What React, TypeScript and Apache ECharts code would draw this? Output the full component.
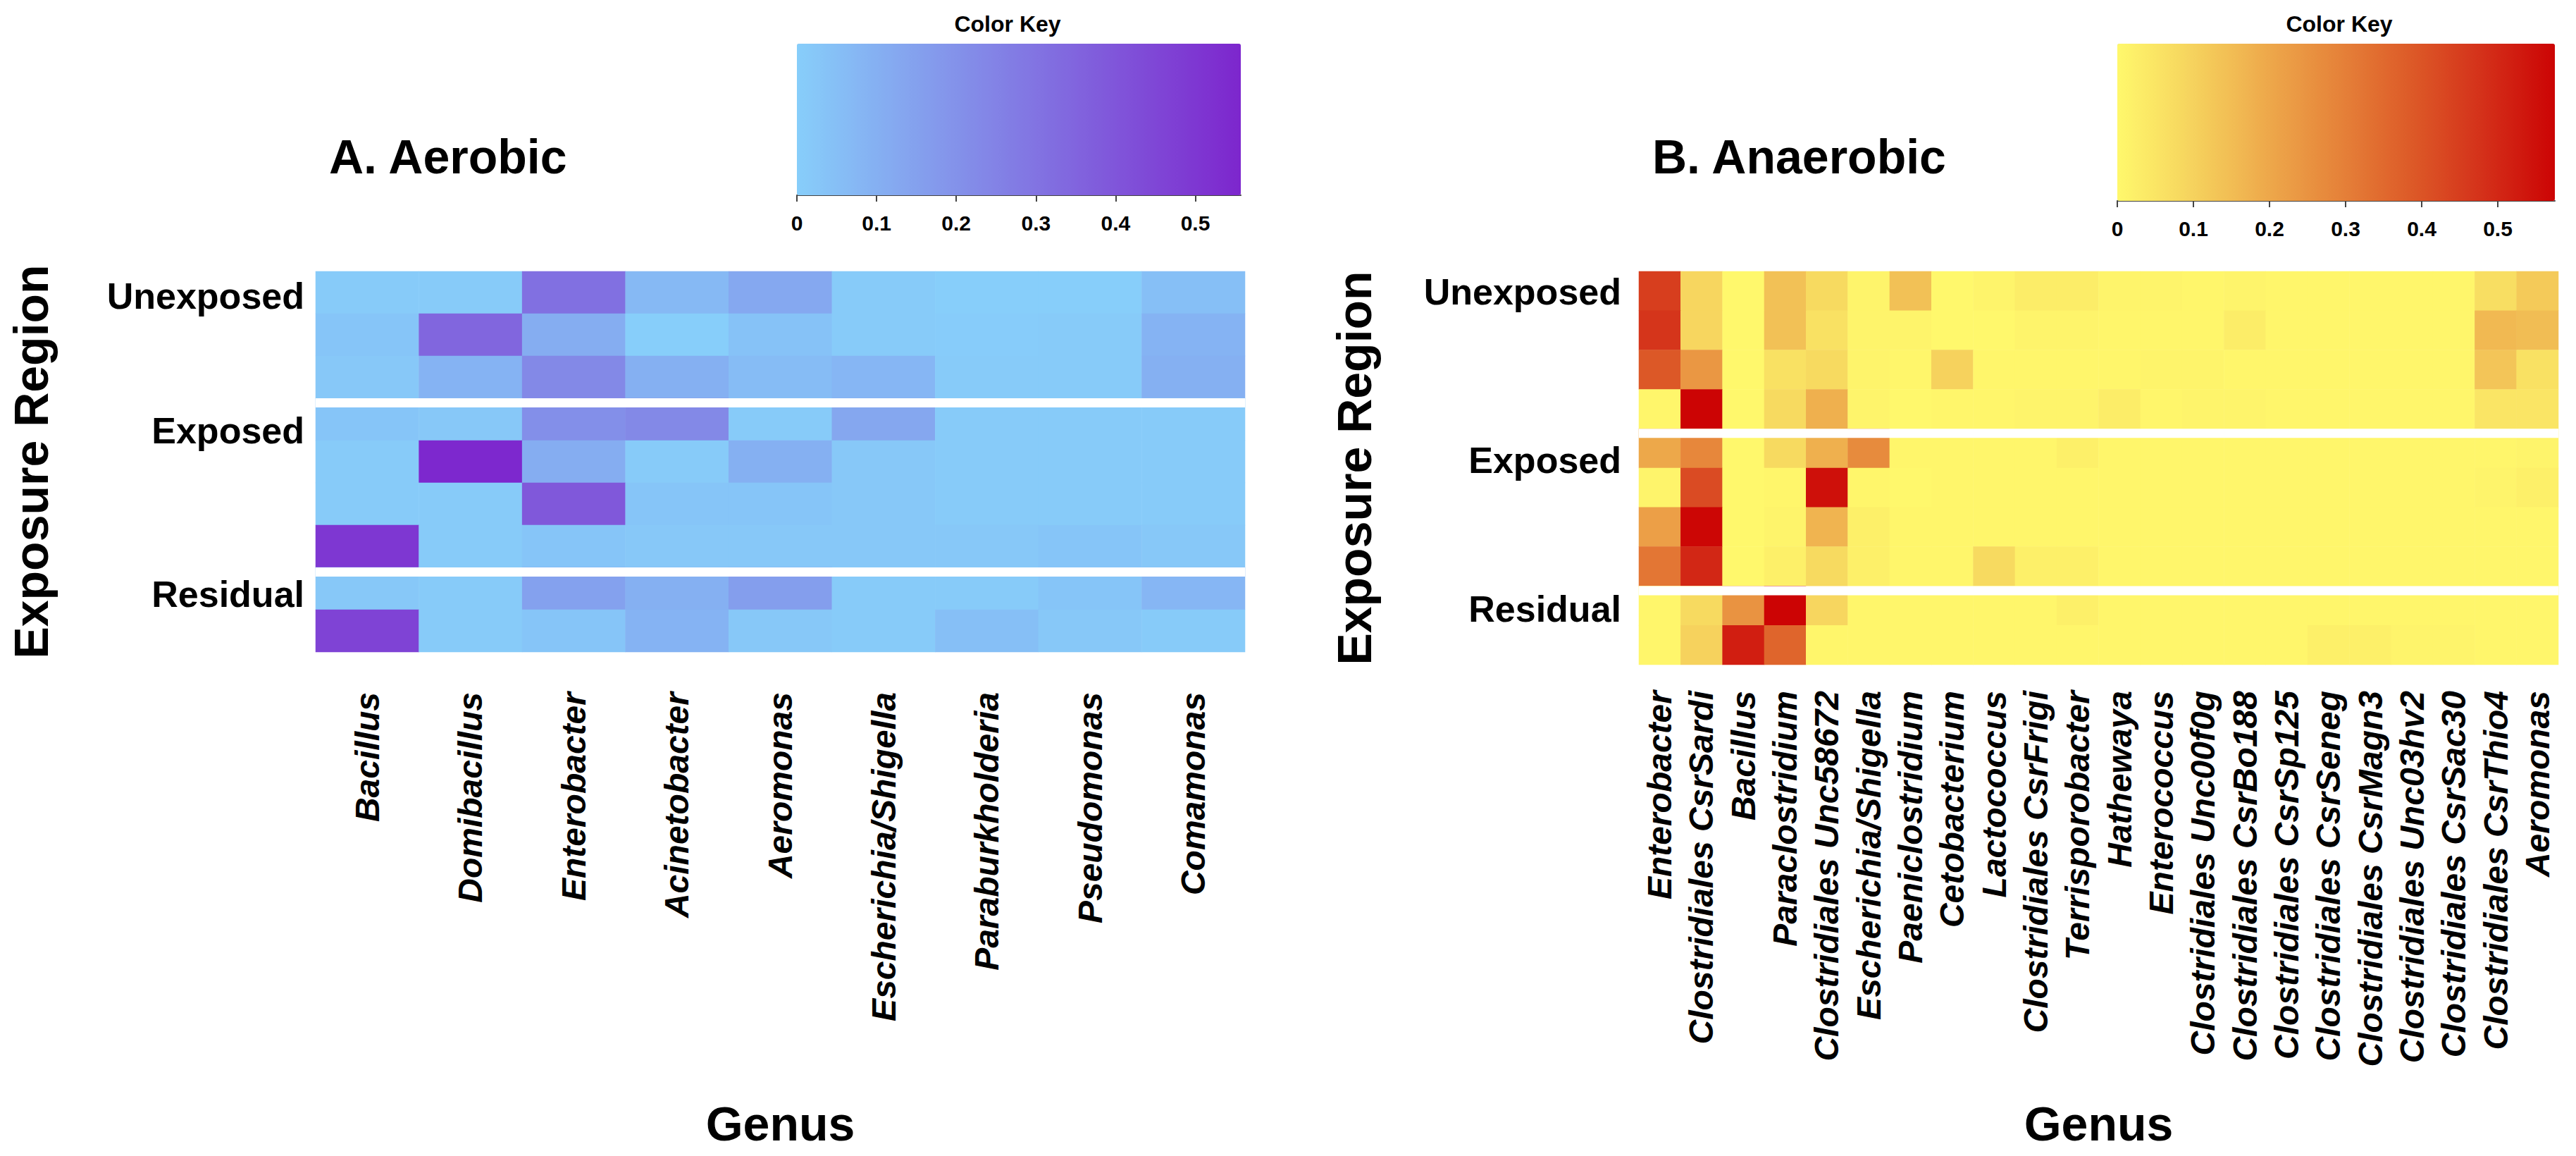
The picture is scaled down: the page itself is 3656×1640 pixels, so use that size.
import React, { useEffect, useRef } from 'react';
import * as echarts from 'echarts';

const FONT = 'Liberation Sans, Arial, Helvetica, sans-serif';

// ---------- Panel A: Aerobic ----------
const aerobicGenera = [
  'Bacillus', 'Domibacillus', 'Enterobacter', 'Acinetobacter', 'Aeromonas',
  'Escherichia/Shigella', 'Paraburkholderia', 'Pseudomonas', 'Comamonas',
];
const aerobicRows = [
  'Unexposed', 'Unexposed', 'Unexposed',
  'Exposed', 'Exposed', 'Exposed', 'Exposed',
  'Residual', 'Residual',
];
// rows = samples (top to bottom), columns = genera
const aerobicValues = [
  [0.01, 0.01, 0.31, 0.07, 0.125, 0.01, 0.0, 0.0, 0.05],
  [0.03, 0.345, 0.11, 0.0, 0.04, 0.01, 0.005, 0.01, 0.09],
  [0.02, 0.09, 0.23, 0.10, 0.06, 0.08, 0.01, 0.01, 0.10],
  [0.03, 0.02, 0.21, 0.23, 0.01, 0.13, 0.01, 0.01, 0.01],
  [0.01, 0.55, 0.11, 0.01, 0.10, 0.02, 0.01, 0.01, 0.01],
  [0.01, 0.01, 0.39, 0.03, 0.03, 0.02, 0.01, 0.01, 0.01],
  [0.50, 0.01, 0.03, 0.02, 0.02, 0.02, 0.02, 0.03, 0.02],
  [0.02, 0.01, 0.15, 0.10, 0.16, 0.01, 0.01, 0.03, 0.08],
  [0.46, 0.01, 0.03, 0.09, 0.02, 0.01, 0.05, 0.02, 0.01],
];
const aerobicKeyMax = 0.557;
const aerobicRamp = ['#87CEFA', '#7D26CD'];

// ---------- Panel B: Anaerobic ----------
const anaerobicGenera = [
  'Enterobacter', 'Clostridiales CsrSardi', 'Bacillus', 'Paraclostridium',
  'Clostridiales Unc58672', 'Escherichia/Shigella', 'Paeniclostridium',
  'Cetobacterium', 'Lactococcus', 'Clostridiales CsrFrigi', 'Terrisporobacter',
  'Hathewaya', 'Enterococcus', 'Clostridiales Unc00f0g', 'Clostridiales CsrBo188',
  'Clostridiales CsrSp125', 'Clostridiales CsrSeneg', 'Clostridiales CsrMagn3',
  'Clostridiales Unc03hv2', 'Clostridiales CsrSac30', 'Clostridiales CsrThio4',
  'Aeromonas',
];
const anaerobicRows = [
  'Unexposed', 'Unexposed', 'Unexposed', 'Unexposed',
  'Exposed', 'Exposed', 'Exposed', 'Exposed',
  'Residual', 'Residual',
];
const anaerobicValues = [
  [0.45, 0.09, 0, 0.14, 0.08, 0.01, 0.14, 0, 0.01, 0.03, 0.03, 0.01, 0.01, 0.005, 0.01, 0.005, 0.005, 0.005, 0.005, 0.005, 0.07, 0.12],
  [0.47, 0.09, 0, 0.14, 0.06, 0.01, 0.01, 0, 0, 0.01, 0.01, 0.005, 0.005, 0.005, 0.03, 0.005, 0.005, 0.005, 0.005, 0.005, 0.16, 0.15],
  [0.39, 0.24, 0, 0.06, 0.08, 0.01, 0.005, 0.10, 0.005, 0.005, 0.005, 0.005, 0.01, 0.01, 0.005, 0.005, 0.005, 0.005, 0.005, 0.005, 0.13, 0.06],
  [0.005, 0.575, 0, 0.08, 0.18, 0.01, 0, 0.005, 0.005, 0.01, 0.01, 0.03, 0.005, 0.01, 0.01, 0.005, 0.005, 0.005, 0.005, 0.005, 0.05, 0.05],
  [0.20, 0.28, 0, 0.08, 0.18, 0.27, 0.005, 0.005, 0.005, 0.005, 0.02, 0.005, 0.005, 0.005, 0.005, 0.005, 0.005, 0.005, 0.005, 0.005, 0.005, 0.01],
  [0.01, 0.42, 0, 0.005, 0.55, 0.005, 0, 0.005, 0.005, 0.005, 0.005, 0.005, 0.005, 0.005, 0.005, 0.005, 0.005, 0.005, 0.005, 0.005, 0.01, 0.02],
  [0.22, 0.57, 0, 0.01, 0.17, 0.02, 0.005, 0.005, 0.005, 0.005, 0.005, 0.005, 0.005, 0.005, 0.005, 0.005, 0.005, 0.005, 0.005, 0.005, 0.005, 0.005],
  [0.32, 0.50, 0, 0.02, 0.08, 0.02, 0.005, 0.005, 0.08, 0.02, 0.02, 0.005, 0.005, 0.005, 0.005, 0.005, 0.005, 0.005, 0.005, 0.005, 0.005, 0.005],
  [0.005, 0.08, 0.25, 0.575, 0.09, 0.005, 0.005, 0.005, 0.005, 0.005, 0.02, 0.005, 0.005, 0.005, 0.005, 0.005, 0.005, 0.005, 0.005, 0.005, 0.005, 0.005],
  [0.005, 0.10, 0.52, 0.36, 0.005, 0.005, 0.005, 0.005, 0.005, 0.005, 0.005, 0.005, 0.005, 0.005, 0.005, 0.005, 0.02, 0.02, 0.01, 0.01, 0.005, 0.005],
];
const anaerobicKeyMax = 0.575;
const anaerobicRamp = ['#FFF86C', '#F6D45E', '#EEAB4C', '#E6843A', '#DD5B28', '#D4311A', '#CC0404'];

const keyTicks = [0, 0.1, 0.2, 0.3, 0.4, 0.5];

// ---------- helpers ----------
function toCells(values: number[][]) {
  const out: number[][] = [];
  values.forEach((row, r) => row.forEach((v, c) => out.push([c, r, v])));
  return out;
}
function groupStarts(rows: string[]) {
  const s: number[] = [];
  rows.forEach((g, i) => { if (i > 0 && g !== rows[i - 1]) s.push(i); });
  return s;
}

const ROW_LABEL_STYLE = { fontSize: 52, fontWeight: 'bold', color: '#000', fontFamily: FONT };
// downward nudge of each group label (style only), per panel
function rowLabelAxis(rows: string[], nudge: Record<string, number>) {
  const rich: Record<string, any> = {};
  Object.keys(nudge).forEach((k) => {
    rich[k] = { ...ROW_LABEL_STYLE, padding: [nudge[k] * 2, 0, 0, 0] };
  });
  const formatter = (_v: string, i: number) =>
    i === 0 || rows[i] !== rows[i - 1] ? `{${rows[i]}|${rows[i]}}` : '';
  return { rich, formatter };
}

const SEP_H = 13;
function sepRender(params: any, api: any) {
  const r = api.value(1);
  const c = api.coord([0, r]);
  const sz = api.size([1, 1]);
  const cs = params.coordSys;
  return {
    type: 'rect',
    shape: { x: cs.x, y: c[1] - sz[1] / 2, width: cs.width, height: SEP_H },
    style: { fill: '#ffffff' },
  };
}

function heatXAxis(gridIndex: number, data: string[], margin: number, nameGap: number, shiftPad: number) {
  return {
    gridIndex, type: 'category', data, position: 'bottom',
    axisLine: { show: false }, axisTick: { show: false }, splitLine: { show: false },
    axisLabel: {
      interval: 0, rotate: 90, margin, fontSize: 48, fontWeight: 'bold',
      fontStyle: 'italic', color: '#000', fontFamily: FONT,
      padding: [0, 0, shiftPad, 0],
    },
    name: 'Genus', nameLocation: 'middle', nameGap,
    nameTextStyle: { fontSize: 68, fontWeight: 'bold', color: '#000', fontFamily: FONT },
  };
}
function heatYAxis(gridIndex: number, rows: string[], margin: number, nameGap: number, nudge: Record<string, number>) {
  const lab = rowLabelAxis(rows, nudge);
  return {
    gridIndex, type: 'category', inverse: true,
    data: rows.map((g, i) => `${g}-${i}`),
    axisLine: { show: false }, axisTick: { show: false }, splitLine: { show: false },
    axisLabel: {
      interval: 0, margin, ...ROW_LABEL_STYLE,
      formatter: lab.formatter, rich: lab.rich,
    },
    name: 'Exposure Region', nameLocation: 'middle', nameGap, nameRotate: 90,
    nameTextStyle: { fontSize: 68, fontWeight: 'bold', color: '#000', fontFamily: FONT },
  };
}
function keyXAxis(gridIndex: number, max: number) {
  return {
    gridIndex, type: 'value', min: 0, max, position: 'bottom',
    axisLine: { show: true, onZero: false, lineStyle: { color: '#444', width: 2 } },
    axisTick: { show: true, length: 9, customValues: keyTicks, lineStyle: { color: '#444', width: 2 } },
    splitLine: { show: false },
    axisLabel: {
      customValues: keyTicks, margin: 24, fontSize: 30, fontWeight: 'bold',
      color: '#000', fontFamily: FONT, formatter: (v: number) => String(v),
    },
  };
}

export default function App() {
  const ref = useRef<HTMLDivElement>(null);
  useEffect(() => {
    const chart = echarts.init(ref.current!, null, { renderer: 'svg' });
    const titleStyle = { fontSize: 68, fontWeight: 'bold', fontFamily: FONT, fill: '#000', textVerticalAlign: 'middle' };
    const keyTitleStyle = { fontSize: 32, fontWeight: 'bold', fontFamily: FONT, fill: '#000', textAlign: 'center', textVerticalAlign: 'middle' };
    const option: any = {
      animation: false,
      backgroundColor: '#ffffff',
      textStyle: { fontFamily: FONT },
      grid: [
        { left: 448, top: 385, width: 1319, height: 540 },
        { left: 2326, top: 385, width: 1305, height: 558 },
        { left: 1131, top: 62, width: 630, height: 215 },
        { left: 3005, top: 62, width: 621, height: 223 },
      ],
      xAxis: [
        heatXAxis(0, aerobicGenera, 57, 635, 44),
        heatXAxis(1, anaerobicGenera, 37, 617, 14),
        keyXAxis(2, aerobicKeyMax),
        keyXAxis(3, anaerobicKeyMax),
      ],
      yAxis: [
        heatYAxis(0, aerobicRows, 16, 370, { Unexposed: 5, Exposed: 16, Residual: 8 }),
        heatYAxis(1, anaerobicRows, 25, 370, { Unexposed: 1, Exposed: 17, Residual: 5 }),
        { gridIndex: 2, type: 'value', show: false, min: 0, max: 1 },
        { gridIndex: 3, type: 'value', show: false, min: 0, max: 1 },
      ],
      visualMap: [
        {
          type: 'continuous', seriesIndex: 0, min: 0, max: aerobicKeyMax,
          calculable: false, orient: 'horizontal', left: 1131, top: 62,
          itemWidth: 215, itemHeight: 630, padding: 0, hoverLink: false,
          inRange: { color: aerobicRamp },
        },
        {
          type: 'continuous', seriesIndex: 1, min: 0, max: anaerobicKeyMax,
          calculable: false, orient: 'horizontal', left: 3005, top: 62,
          itemWidth: 223, itemHeight: 621, padding: 0, hoverLink: false,
          inRange: { color: anaerobicRamp },
        },
      ],
      graphic: [
        { type: 'text', x: 467, y: 222, style: { text: 'A. Aerobic', ...titleStyle } },
        { type: 'text', x: 2345, y: 222, style: { text: 'B. Anaerobic', ...titleStyle } },
        { type: 'text', x: 1430, y: 34, style: { text: 'Color Key', ...keyTitleStyle } },
        { type: 'text', x: 3320, y: 34, style: { text: 'Color Key', ...keyTitleStyle } },
      ],
      series: [
        { type: 'heatmap', xAxisIndex: 0, yAxisIndex: 0, data: toCells(aerobicValues), emphasis: { disabled: true } },
        { type: 'heatmap', xAxisIndex: 1, yAxisIndex: 1, data: toCells(anaerobicValues), emphasis: { disabled: true } },
        { type: 'custom', xAxisIndex: 0, yAxisIndex: 0, silent: true, z: 5, data: groupStarts(aerobicRows).map((r) => [0, r]), renderItem: sepRender },
        { type: 'custom', xAxisIndex: 1, yAxisIndex: 1, silent: true, z: 5, data: groupStarts(anaerobicRows).map((r) => [0, r]), renderItem: sepRender },
        { type: 'line', xAxisIndex: 2, yAxisIndex: 2, data: [], silent: true },
        { type: 'line', xAxisIndex: 3, yAxisIndex: 3, data: [], silent: true },
      ],
    };
    chart.setOption(option);
    return () => chart.dispose();
  }, []);
  return (
    <div
      ref={ref}
      style={{ position: 'absolute', left: 0, top: 0, width: 3656, height: 1640, background: '#fff' }}
    />
  );
}
